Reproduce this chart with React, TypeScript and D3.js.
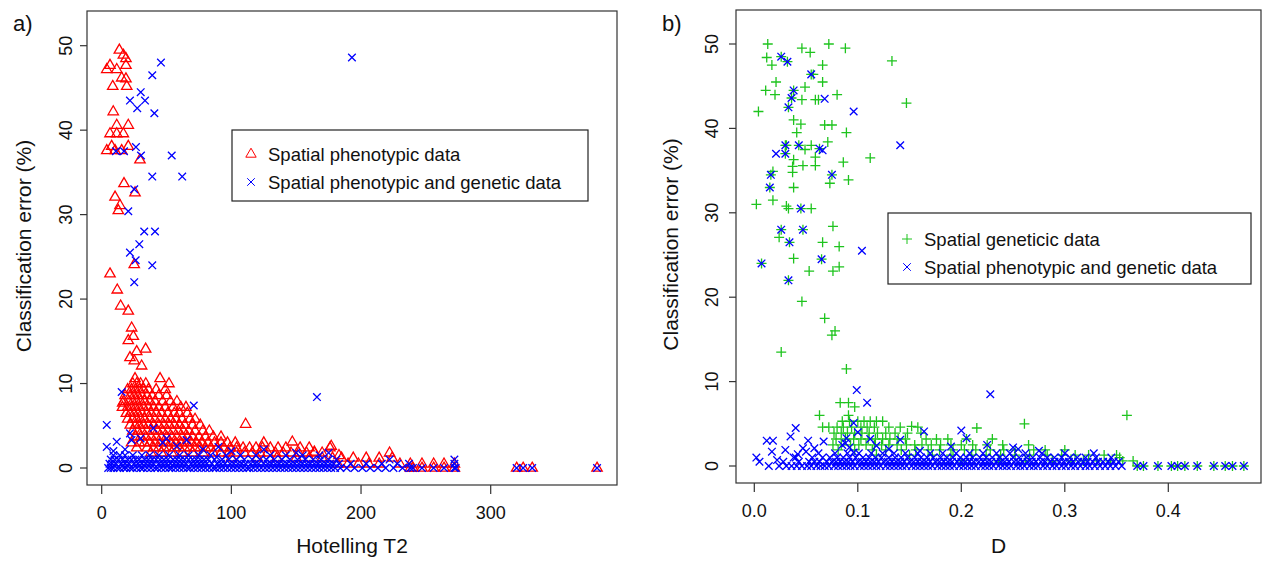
import * as d3 from "d3";

const FONT = "'Liberation Sans', Arial, sans-serif";
const RED = "#ff0000";
const BLUE = "#0000ff";
const GREEN = "#1ec41e";

// axis ticks
const hotellingTicks = [0, 100, 200, 300];
const dTicks = [0, 0.1, 0.2, 0.3, 0.4];
const errorTicks = [0, 10, 20, 30, 40, 50];

// panel a: Spatial phenotypic data (Hotelling T2, error %)
const phenoA: [number, number][] = [
  [13.6, 49.5], [16.7, 48.9], [18.7, 48.5], [6.4, 47.7], [11.6, 47.2], [3.9, 47.2], [18.7, 47.7],
  [15.4, 46.2], [18.7, 46.1], [8.5, 45.2], [19.3, 45.2], [8.9, 42.2], [11.6, 40.6], [20.5, 40.6],
  [6.4, 39.6], [11.6, 39.6], [16.7, 39.6], [7.7, 38.1], [20.5, 38.1], [3.9, 37.6], [10.3, 37.6],
  [15.4, 37.6], [29.5, 36.5], [17.2, 33.7], [10.3, 32.1], [25.7, 32.6], [14.1, 31.1], [12.8, 30.5],
  [25.1, 24.1], [6.4, 23.0], [12, 21.1], [14.6, 19.2], [20.5, 18.6], [23.1, 16.6], [24.4, 15.6],
  [20.5, 15.1], [27, 13.8], [21.8, 13.1], [33.9, 14.1], [25.1, 12.7], [30.8, 12.1], [25.7, 10.6],
  [45, 10.6], [51.9, 10.0], [16.2, 7.7], [111, 5.2], [147, 3.1], [164, 1.9], [177, 2.6], [183, 1.5],
];
// dense part of the red cloud, one row per error level
const phenoRowsA: [number, number[]][] = [
  [10.0, [24, 27, 30, 34]],
  [9.3, [20, 23, 26, 29, 32, 36, 42, 49]],
  [8.6, [18, 22, 25, 28, 31, 35, 39, 44, 50]],
  [7.9, [17, 21, 24, 27, 30, 33, 37, 41, 47, 53, 58]],
  [7.2, [16, 20, 23, 26, 29, 32, 36, 40, 44, 49, 55, 61, 65]],
  [6.5, [19, 22, 25, 28, 31, 35, 38, 42, 46, 51, 56, 60, 66]],
  [5.8, [20, 24, 27, 30, 33, 37, 41, 45, 49, 53, 57, 62, 68, 72]],
  [5.1, [22, 26, 29, 32, 36, 40, 44, 48, 52, 56, 60, 64, 70, 76]],
  [4.4, [24, 28, 31, 35, 39, 43, 47, 51, 55, 59, 63, 67, 72, 78, 83]],
  [3.7, [26, 30, 34, 38, 42, 46, 50, 54, 58, 62, 66, 70, 75, 80, 86, 92]],
  [3.0, [23, 29, 33, 37, 41, 45, 49, 53, 57, 61, 65, 69, 73, 77, 82, 87, 92, 97, 103, 125]],
  [2.4, [27, 35, 40, 44, 48, 52, 56, 60, 64, 68, 72, 76, 80, 84, 89, 94, 99, 104, 109, 114, 119, 124, 130, 136, 142, 153, 160, 176]],
  [1.8, [38, 46, 54, 62, 70, 78, 86, 92, 98, 104, 110, 116, 122, 128, 134, 140, 146, 152, 158, 164, 170, 222]],
  [1.2, [100, 120, 135, 150, 160, 170, 178, 185, 194, 204, 214, 224]],
  [0.5, [182, 190, 198, 206, 214, 230, 238, 247, 256, 264, 272]],
  [0, [238, 240, 247, 256, 264, 272, 320, 325, 332, 382]],
];

// panel a: Spatial phenotypic and genetic data
const phenoGenA: [number, number][] = [
  [45.7, 48], [39, 46.5], [30.1, 44.5], [21.8, 43.5], [33.4, 43.5], [27.4, 42.6], [40.6, 42],
  [26.4, 38], [11, 37.5], [17.2, 37.5], [30.3, 37], [54, 37], [39, 34.5], [62.1, 34.5], [25.1, 33],
  [20.5, 30.4], [32.8, 28], [41.1, 28], [29, 26.5], [21.8, 25.5], [26.2, 24.6], [39, 24], [25.1, 22],
  [193, 48.6], [166, 8.4], [15.4, 9.0], [71, 7.4], [3.9, 5.1], [3.9, 2.5], [11.6, 3.1], [9, 2],
  [21.8, 4.1], [23, 3.3], [18, 2.2], [30, 3.5], [39.8, 4.7], [47, 3], [50, 3.5], [65.5, 3.3],
  [78, 2.2], [88.7, 1.3], [90, 2.5], [100, 2], [125, 2.2], [150, 1.8], [175, 1.8], [58, 2.6],
];
const phenoGenRowsA: [number, number[]][] = [
  [0, [5, 7, 9, 12, 14, 17, 19, 22, 24, 27, 30, 32, 35, 38, 41, 43, 46, 49, 52, 54, 57, 60, 63, 66, 68, 71, 74, 77, 80, 83, 86, 88, 91, 94, 97, 100, 103, 106, 109, 112, 114, 117, 120, 123, 126, 129, 132, 135, 138, 141, 144, 147, 150, 153, 156, 159, 162, 165, 168, 171, 174, 177, 180, 184, 189, 195, 201, 207, 213, 219, 225, 232, 238, 240, 247, 256, 264, 272, 273, 320, 325, 332, 382]],
  [0.5, [6, 8, 11, 15, 18, 21, 25, 28, 31, 34, 37, 40, 44, 47, 50, 53, 56, 59, 62, 65, 69, 72, 75, 78, 81, 85, 89, 92, 95, 99, 102, 105, 108, 111, 115, 118, 121, 125, 128, 131, 134, 137, 140, 143, 146, 149, 152, 155, 158, 161, 164, 167, 170, 173, 176, 179, 183, 192, 204, 216, 228, 237, 272]],
  [1.0, [7, 10, 13, 16, 20, 23, 26, 29, 33, 36, 39, 42, 45, 48, 51, 55, 58, 61, 64, 67, 70, 73, 76, 79, 82, 87, 93, 98, 104, 110, 116, 122, 127, 133, 139, 145, 151, 157, 163, 169, 175, 181, 222, 272]],
  [1.5, [9, 14, 18, 24, 31, 37, 44, 52, 60, 67, 75, 84, 96, 107, 119, 130, 142, 155, 168]],
];

// panel b: Spatial geneticic data (D, error %)
const geneticB: [number, number][] = [
  [0.013, 50], [0.072, 50], [0.012, 48.4], [0.017, 47.5], [0.046, 49.5], [0.054, 49], [0.088, 49.5],
  [0.133, 48], [0.021, 45.5], [0.011, 44.5], [0.020, 44], [0.004, 42], [0.057, 46.4], [0.066, 47.5],
  [0.066, 45.5], [0.080, 44], [0.049, 44.9], [0.046, 43.4], [0.059, 43.4], [0.062, 43.4], [0.147, 43],
  [0.038, 41], [0.045, 40.5], [0.041, 39.5], [0.068, 40.4], [0.075, 40.4], [0.089, 39.5], [0.031, 38],
  [0.055, 38], [0.049, 37.5], [0.071, 38.4], [0.059, 36.6], [0.112, 36.5], [0.038, 36.3], [0.086, 36],
  [0.037, 35.5], [0.047, 35.6], [0.059, 35.6], [0.037, 34.8], [0.018, 34.9], [0.073, 33.5], [0.091, 33.9],
  [0.038, 33], [0.002, 31], [0.018, 31.5], [0.031, 30.8], [0.055, 30.5], [0.033, 30.5], [0.076, 28.4],
  [0.024, 27.1], [0.066, 26.5], [0.082, 26], [0.038, 24.6], [0.053, 23.1], [0.076, 23.1], [0.082, 23.6],
  [0.046, 19.5], [0.068, 17.5], [0.075, 15.5], [0.078, 16], [0.026, 13.5], [0.089, 11.5], [0.083, 7.5],
  [0.091, 7.5], [0.097, 7], [0.063, 6], [0.091, 6], [0.215, 4.5], [0.261, 5], [0.36, 6], [0.353, 1.0],
  [0.026, 48.5], [0.032, 47.9], [0.055, 46.4], [0.038, 44.5], [0.036, 43.6], [0.033, 42.5], [0.030, 38],
  [0.043, 38], [0.030, 37], [0.063, 37.6], [0.016, 34.5], [0.075, 34.5], [0.015, 33], [0.045, 30.5],
  [0.026, 28], [0.047, 28], [0.034, 26.5], [0.007, 24], [0.065, 24.5], [0.033, 22], [0.152, 4.7],
];
const geneticRowsB: [number, number[]][] = [
  [5.3, [0.085, 0.092, 0.1, 0.106, 0.112, 0.118, 0.124]],
  [4.6, [0.066, 0.072, 0.08, 0.086, 0.094, 0.103, 0.109, 0.116, 0.13, 0.141, 0.158]],
  [3.9, [0.077, 0.084, 0.09, 0.097, 0.104, 0.111, 0.119, 0.127, 0.136, 0.148, 0.161]],
  [3.2, [0.079, 0.088, 0.096, 0.103, 0.11, 0.117, 0.124, 0.131, 0.139, 0.146, 0.166, 0.176, 0.187, 0.205, 0.23]],
  [2.5, [0.076, 0.084, 0.093, 0.101, 0.108, 0.116, 0.123, 0.13, 0.138, 0.147, 0.155, 0.162, 0.171, 0.18, 0.19, 0.2, 0.211, 0.225, 0.24, 0.265]],
  [1.9, [0.081, 0.097, 0.114, 0.127, 0.142, 0.156, 0.168, 0.179, 0.192, 0.203, 0.214, 0.228, 0.241, 0.252, 0.27, 0.281, 0.3]],
  [1.3, [0.118, 0.15, 0.172, 0.19, 0.21, 0.224, 0.238, 0.252, 0.266, 0.283, 0.297, 0.31, 0.323, 0.338, 0.35]],
  [0.6, [0.2, 0.236, 0.262, 0.288, 0.306, 0.318, 0.331, 0.344, 0.356, 0.366]],
  [0, [0.37, 0.376, 0.39, 0.403, 0.409, 0.416, 0.428, 0.444, 0.455, 0.462, 0.473]],
];

// panel b: Spatial phenotypic and genetic data
const phenoGenB: [number, number][] = [
  [0.026, 48.5], [0.032, 47.9], [0.055, 46.4], [0.038, 44.5], [0.036, 43.6], [0.033, 42.5], [0.068, 43.5],
  [0.096, 42], [0.141, 38], [0.030, 38], [0.043, 38], [0.021, 37], [0.030, 37], [0.063, 37.6], [0.066, 37.4],
  [0.016, 34.5], [0.075, 34.5], [0.015, 33], [0.045, 30.5], [0.026, 28], [0.047, 28], [0.034, 26.5],
  [0.104, 25.5], [0.007, 24], [0.065, 24.5], [0.033, 22], [0.099, 9], [0.109, 7.5], [0.164, 4.1],
  [0.228, 8.5], [0.328, 1.5], [0.04, 4.5], [0.002, 1.0], [0.005, 0.5], [0.012, 3], [0.018, 3],
  [0.017, 1.7], [0.022, 0.7], [0.03, 1.9], [0.035, 3.5], [0.052, 3], [0.067, 2.9], [0.047, 2.1],
  [0.04, 1.0], [0.05, 1.7], [0.042, 1.4], [0.058, 2.1], [0.088, 2.7], [0.089, 3.3], [0.096, 5.1],
  [0.1, 4], [0.085, 2.5], [0.112, 3.2], [0.13, 2], [0.141, 3.1], [0.16, 1.8], [0.19, 2.3], [0.205, 3.3],
  [0.225, 2.5], [0.25, 2.2], [0.255, 2.0], [0.275, 1.8], [0.092, 2.2], [0.096, 1.6], [0.118, 2.4], [0.2, 4.2],
];
const phenoGenRowsB: [number, number[]][] = [
  [0, [0.014, 0.024, 0.031, 0.036, 0.041, 0.046, 0.051, 0.055, 0.06, 0.064, 0.068, 0.072, 0.077, 0.081, 0.085, 0.089, 0.093, 0.097, 0.102, 0.106, 0.11, 0.114, 0.118, 0.122, 0.127, 0.131, 0.135, 0.139, 0.143, 0.147, 0.152, 0.156, 0.16, 0.164, 0.168, 0.172, 0.177, 0.181, 0.185, 0.189, 0.193, 0.198, 0.202, 0.206, 0.21, 0.214, 0.219, 0.223, 0.227, 0.231, 0.236, 0.24, 0.244, 0.248, 0.253, 0.257, 0.261, 0.266, 0.27, 0.274, 0.279, 0.283, 0.288, 0.292, 0.297, 0.301, 0.306, 0.31, 0.315, 0.32, 0.324, 0.329, 0.334, 0.339, 0.344, 0.349, 0.355, 0.37, 0.376, 0.39, 0.403, 0.409, 0.416, 0.428, 0.444, 0.455, 0.462, 0.473]],
  [0.5, [0.028, 0.043, 0.053, 0.058, 0.063, 0.07, 0.075, 0.079, 0.083, 0.087, 0.091, 0.095, 0.1, 0.104, 0.108, 0.112, 0.116, 0.12, 0.125, 0.129, 0.133, 0.137, 0.141, 0.145, 0.15, 0.154, 0.158, 0.162, 0.166, 0.17, 0.175, 0.179, 0.183, 0.187, 0.191, 0.196, 0.2, 0.204, 0.208, 0.212, 0.217, 0.221, 0.225, 0.229, 0.234, 0.238, 0.242, 0.246, 0.251, 0.255, 0.259, 0.264, 0.268, 0.272, 0.277, 0.281, 0.286, 0.29, 0.295, 0.299, 0.304, 0.308, 0.313, 0.318, 0.322, 0.327, 0.332, 0.337, 0.342, 0.347, 0.352]],
  [1.0, [0.038, 0.056, 0.066, 0.073, 0.08, 0.086, 0.092, 0.098, 0.105, 0.111, 0.117, 0.123, 0.13, 0.136, 0.142, 0.148, 0.155, 0.161, 0.167, 0.173, 0.18, 0.186, 0.192, 0.199, 0.205, 0.211, 0.218, 0.224, 0.23, 0.237, 0.243, 0.25, 0.256, 0.263, 0.269, 0.276, 0.283, 0.29, 0.297, 0.305, 0.312, 0.32, 0.33, 0.345]],
  [1.5, [0.062, 0.078, 0.09, 0.101, 0.113, 0.124, 0.135, 0.146, 0.158, 0.17, 0.182, 0.195, 0.208, 0.221, 0.234, 0.247, 0.262, 0.278, 0.3]],
];

const withRows = (pts: [number, number][], rows: [number, number[]][]) =>
  pts.concat(rows.flatMap(([y, xs]) => xs.map((x) => [x, y] as [number, number])));

const TRI = "M0,-5.8L5.2,3.2L-5.2,3.2Z";
const CROSS = "M-3.8,-3.8L3.8,3.8M-3.8,3.8L3.8,-3.8";
const PLUS = "M-5,0L5,0M0,-5L0,5";

function Marks({ data, x, y, shape, color }: any) {
  return (
    <g fill="none" stroke={color} strokeWidth={1.3}>
      {data.map((d: [number, number], i: number) => (
        <path key={i} d={shape} transform={`translate(${x(d[0])},${y(d[1])})`} />
      ))}
    </g>
  );
}

function Frame({ box, x, y, xTicks, fmt, xTitle, tag, yLabX, titleX }: any) {
  const [l, t, r, b] = box;
  const cy = (t + b) / 2;
  return (
    <g fontFamily={FONT} fill="#111">
      <rect x={l} y={t} width={r - l} height={b - t} fill="none" stroke="#333" strokeWidth={1.2} />
      {xTicks.map((v: number) => (
        <g key={v}>
          <line x1={x(v)} x2={x(v)} y1={b} y2={b + 9} stroke="#333" strokeWidth={1.2} />
          <text x={x(v)} y={b + 34} textAnchor="middle" fontSize={18}>{fmt(v)}</text>
        </g>
      ))}
      {errorTicks.map((v) => (
        <g key={v}>
          <line x1={l - 7} x2={l} y1={y(v)} y2={y(v)} stroke="#333" strokeWidth={1.2} />
          <text transform={`translate(${yLabX},${y(v)}) rotate(-90)`} textAnchor="middle" fontSize={18}>{v}</text>
        </g>
      ))}
      <text x={(l + r) / 2} y={553} textAnchor="middle" fontSize={21}>{xTitle}</text>
      <text transform={`translate(${titleX},${cy - 2}) rotate(-90)`} textAnchor="middle" fontSize={21}>
        Classification error (%)
      </text>
      <text x={tag[1]} y={31} fontSize={22}>{tag[0]}</text>
    </g>
  );
}

function Legend({ box, items }: any) {
  const [l, t, r, b] = box;
  return (
    <g fontFamily={FONT}>
      <rect x={l} y={t} width={r - l} height={b - t} fill="#fff" stroke="#222" strokeWidth={1.2} />
      {items.map((it: any, i: number) => (
        <g key={i}>
          <path d={it.shape} transform={`translate(${l + 19},${it.cy})`} fill="none" stroke={it.color} strokeWidth={1} />
          <text x={l + 36} y={it.cy + 6.5} fontSize={18.5} fill="#111">{it.label}</text>
        </g>
      ))}
    </g>
  );
}

export default function App() {
  const xA = d3.scaleLinear().domain([0, 300]).range([101.7, 490.7]);
  const yA = d3.scaleLinear().domain([0, 50]).range([468, 45.7]);
  const xB = d3.scaleLinear().domain([0, 0.4]).range([754.3, 1168.3]);
  const yB = d3.scaleLinear().domain([0, 50]).range([466, 44]);

  return (
    <svg width={1262} height={561} style={{ position: "absolute", left: 0, top: 0, background: "#fff" }}>
      <Marks data={withRows(phenoA, phenoRowsA)} x={xA} y={yA} shape={TRI} color={RED} />
      <Marks data={withRows(phenoGenA, phenoGenRowsA)} x={xA} y={yA} shape={CROSS} color={BLUE} />
      <Frame box={[87, 11, 617, 485]} x={xA} y={yA} xTicks={hotellingTicks} fmt={d3.format("d")}
        xTitle="Hotelling T2" tag={["a)", 13]} yLabX={72} titleX={31} />
      <Legend box={[232, 130, 588, 201]} items={[
        { shape: TRI, color: RED, cy: 154, label: "Spatial phenotypic data" },
        { shape: CROSS, color: BLUE, cy: 182, label: "Spatial phenotypic and genetic data" },
      ]} />

      <Marks data={withRows(geneticB, geneticRowsB)} x={xB} y={yB} shape={PLUS} color={GREEN} />
      <Marks data={withRows(phenoGenB, phenoGenRowsB)} x={xB} y={yB} shape={CROSS} color={BLUE} />
      <Frame box={[736, 10, 1261, 483]} x={xB} y={yB} xTicks={dTicks} fmt={d3.format(".1f")}
        xTitle="D" tag={["b)", 662]} yLabX={718} titleX={678} />
      <Legend box={[888, 213, 1251, 284]} items={[
        { shape: PLUS, color: GREEN, cy: 239, label: "Spatial geneticic data" },
        { shape: CROSS, color: BLUE, cy: 267, label: "Spatial phenotypic and genetic data" },
      ]} />
    </svg>
  );
}
